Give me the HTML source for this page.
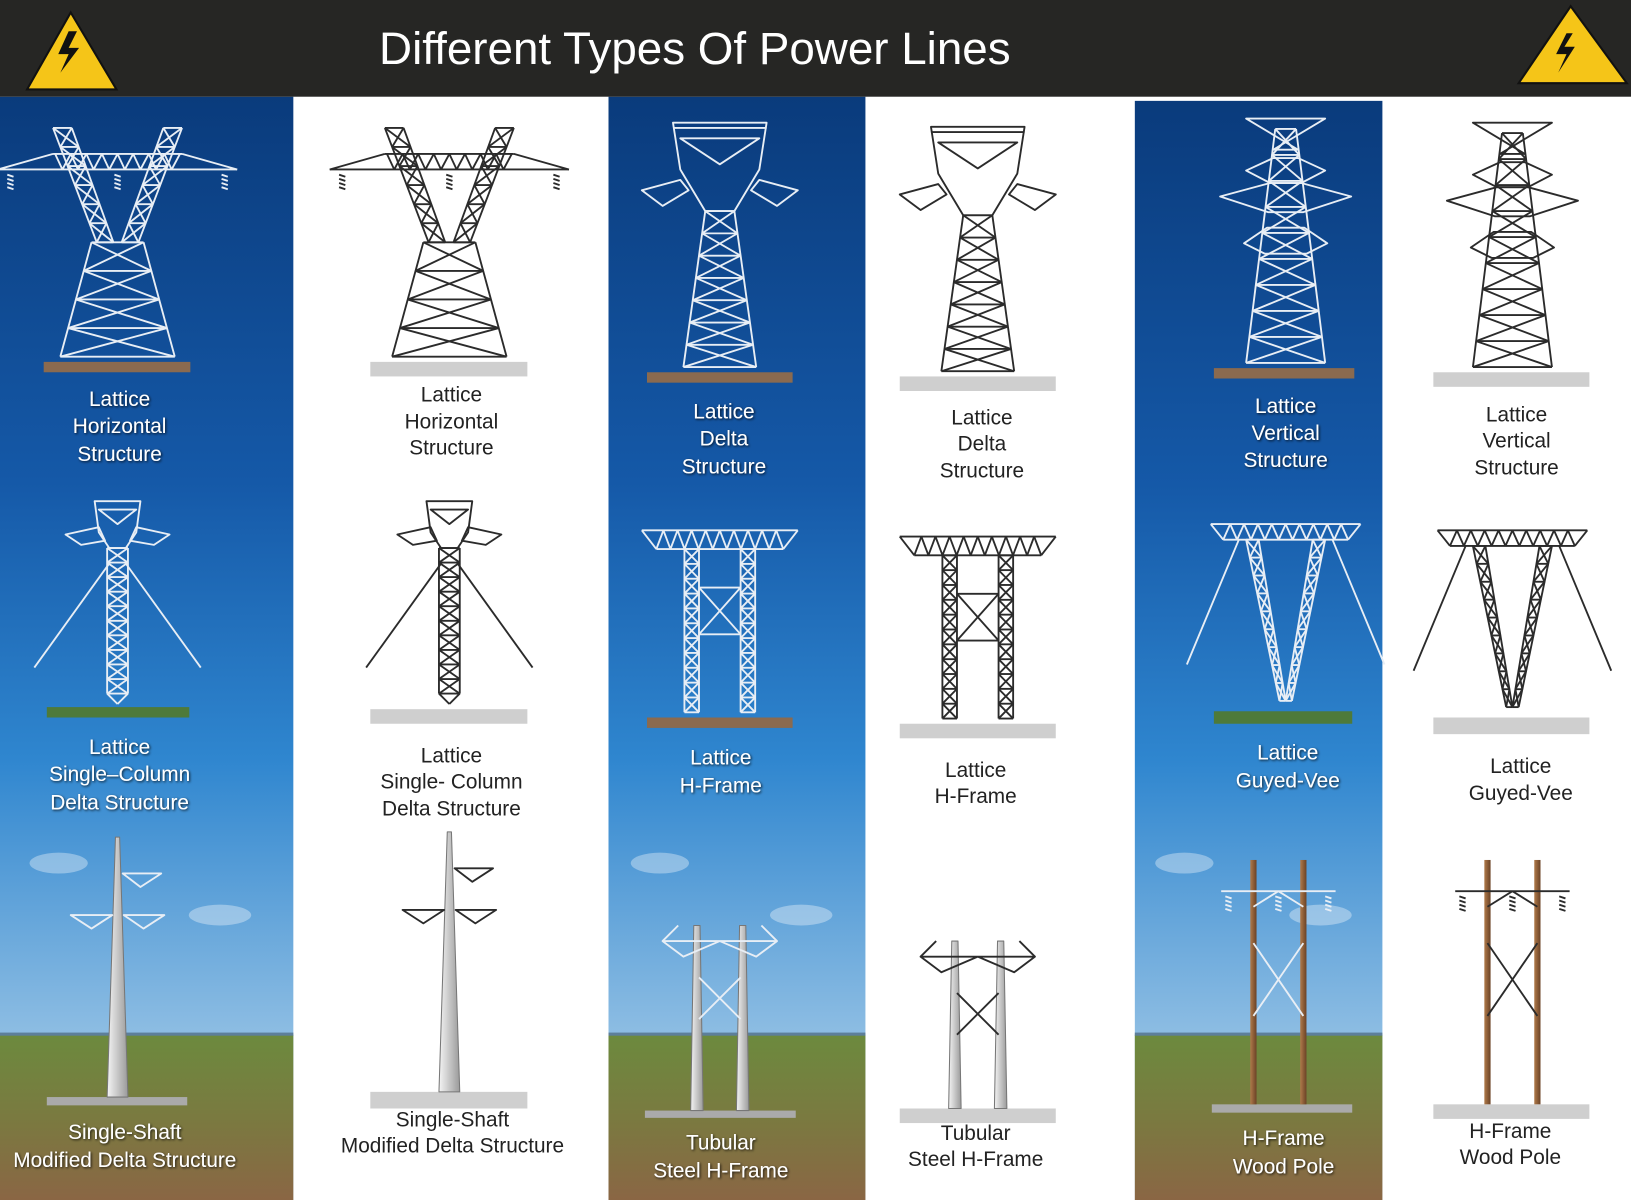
<!DOCTYPE html>
<html><head><meta charset="utf-8"><style>
html,body{margin:0;padding:0;background:#fff;width:1631px;height:1200px;overflow:hidden}
svg{display:block}
text{font-family:"Liberation Sans","DejaVu Sans",sans-serif;text-anchor:middle;dominant-baseline:middle}
</style></head><body>
<svg id="s" width="1631" height="1200" viewBox="0 0 1568 1154" preserveAspectRatio="none" xmlns="http://www.w3.org/2000/svg">
<defs>
<linearGradient id="sky" x1="0" y1="0" x2="0" y2="1">
<stop offset="0" stop-color="#0a3b7c"/><stop offset="0.35" stop-color="#1559a8"/><stop offset="0.6" stop-color="#2f86cf"/><stop offset="0.85" stop-color="#8dbde3"/><stop offset="1" stop-color="#b9d4e8"/>
</linearGradient>
<linearGradient id="gr" x1="0" y1="0" x2="0" y2="1">
<stop offset="0" stop-color="#6c8a3e"/><stop offset="0.5" stop-color="#7a7a40"/><stop offset="1" stop-color="#8a6644"/>
</linearGradient>
<linearGradient id="pole" x1="0" y1="0" x2="1" y2="0">
<stop offset="0" stop-color="#f4f4f4"/><stop offset="1" stop-color="#9a9a9a"/>
</linearGradient>
<linearGradient id="wood" x1="0" y1="0" x2="1" y2="0">
<stop offset="0" stop-color="#b07a4a"/><stop offset="1" stop-color="#6a4226"/>
</linearGradient>
<filter id="sh" x="-10%" y="-30%" width="120%" height="160%"><feDropShadow dx="1" dy="1" stdDeviation="1.2" flood-color="#000" flood-opacity="0.8"/></filter>
</defs>
<rect x="0" y="0" width="1568" height="1154" fill="#fff"/>
<g id="bg"></g>
<g id="g" fill="none" stroke-linejoin="round"></g>
<g id="t"></g>
</svg>
<script>
const NS="http://www.w3.org/2000/svg";
const bg=document.getElementById('bg'),G=document.getElementById('g'),T=document.getElementById('t');
function el(p,tag,a){const e=document.createElementNS(NS,tag);for(const k in a)e.setAttribute(k,a[k]);p.appendChild(e);return e;}
[[0,282,93],[585,247,93],[1091,238,97]].forEach(([x,w,y])=>{
 el(bg,'rect',{x:x,y:y,width:w,height:1154-y,fill:'url(#sky)'});
 el(bg,'rect',{x:x,y:995,width:w,height:159,fill:'url(#gr)'});
 el(bg,'rect',{x:x,y:993,width:w,height:3,fill:'#5d7f9a'});
 el(bg,'ellipse',{cx:x+w*0.2,cy:830,rx:28,ry:10,fill:'#fff',opacity:0.35});
 el(bg,'ellipse',{cx:x+w*0.75,cy:880,rx:30,ry:10,fill:'#fff',opacity:0.35});
});
el(bg,'rect',{x:0,y:0,width:1568,height:93,fill:'#262624'});
el(bg,'polygon',{points:'68,12 112,86 26,86',fill:'#f5c518',stroke:'#111','stroke-width':2});
el(bg,'polygon',{points:'1510,6 1564,80 1460,80',fill:'#f5c518',stroke:'#111','stroke-width':2});
el(bg,'polygon',{points:'1506,32 1496,52 1506,52 1498,70 1514,45 1504,45 1512,32',fill:'#111'});
el(bg,'polygon',{points:'66,30 56,52 66,52 58,70 76,46 66,46 74,30',fill:'#111'});
el(T,'text',{x:668,y:50,fill:'#fff','font-size':44}).textContent='Different Types Of Power Lines';
let C='#eee',W=1.8;
function L(x1,y1,x2,y2){el(G,'line',{x1,y1,x2,y2,stroke:C,'stroke-width':W});}
function P(pts){el(G,'polygon',{points:pts.map(p=>p.join(',')).join(' '),stroke:C,'stroke-width':W,fill:'none'});}
function truss(xl1,xr1,y1,xl2,xr2,y2,n){
 L(xl1,y1,xl2,y2);L(xr1,y1,xr2,y2);
 let prev=null;
 for(let i=0;i<=n;i++){const t=i/n,y=y1+(y2-y1)*t,xl=xl1+(xl2-xl1)*t,xr=xr1+(xr2-xr1)*t;
  L(xl,y,xr,y);
  if(prev){L(prev[0],prev[2],xr,y);L(prev[1],prev[2],xl,y);}
  prev=[xl,xr,y];}
}
function beam(x1,x2,y,h,dx){ // horizontal beam with zigzag
 L(x1,y,x2,y);L(x1+dx,y+h,x2-dx,y+h);L(x1,y,x1+dx,y+h);L(x2,y,x2-dx,y+h);
 const n=Math.round((x2-x1-2*dx)/14);const s=(x2-x1-2*dx)/n;
 for(let i=0;i<n;i++){const a=x1+dx+i*s;L(a,y+h,a+s/2,y);L(a+s/2,y,a+s,y+h);}
}
function base(x1,x2,y,h,fill){el(bg,'rect',{x:x1,y:y,width:x2-x1,height:h,fill:fill});}
function ins(x,y){for(let i=0;i<4;i++)L(x-3,y+i*4,x+3,y+i*4+2);}
function horiz(cx,by){const top=by-225;
 truss(cx-62,cx-44,top,cx-20,cx-4,by-115,6);truss(cx+44,cx+62,top,cx+4,cx+20,by-115,6);
 truss(cx-25,cx+25,by-115,cx-55,cx+55,by-5,4);
 L(cx-115,top+40,cx+115,top+40);L(cx-115,top+40,cx-62,top+25);L(cx+115,top+40,cx+62,top+25);L(cx-62,top+25,cx+62,top+25);
 for(let x=cx-60;x<cx+60;x+=15){L(x,top+25,x+7,top+40);L(x+7,top+40,x+15,top+25);}
 ins(cx-103,top+45);ins(cx,top+45);ins(cx+103,top+45);}
function delta(cx,by){const top=by-240;
 P([[cx-45,top],[cx+45,top],[cx+38,top+45],[cx+14,top+85],[cx-14,top+85],[cx-38,top+45]]);
 P([[cx-38,top+15],[cx+38,top+15],[cx,top+40]]);
 L(cx-45,top+5,cx+45,top+5);
 P([[cx-38,top+55],[cx-75,top+65],[cx-55,top+80],[cx-30,top+65]]);
 P([[cx+38,top+55],[cx+75,top+65],[cx+55,top+80],[cx+30,top+65]]);
 truss(cx-14,cx+14,top+85,cx-35,cx+35,by-5,7);}
function vert(cx,by){const top=by-240;
 truss(cx-10,cx+10,top+10,cx-38,cx+38,by-5,9);
 P([[cx-38,top],[cx+38,top],[cx-12,top+30],[cx+12,top+30]]);
 P([[cx-38,top+50],[cx-12,top+38],[cx+12,top+38],[cx+38,top+50],[cx+15,top+62],[cx-15,top+62]]);
 P([[cx-63,top+75],[cx-15,top+62],[cx+15,top+62],[cx+63,top+75],[cx+17,top+90],[cx-17,top+90]]);
 P([[cx-40,top+120],[cx-18,top+105],[cx+18,top+105],[cx+40,top+120],[cx+20,top+130],[cx-20,top+130]]);}
function scol(cx,by){const top=by-200;
 P([[cx-22,top],[cx+22,top],[cx+18,top+30],[cx+8,top+45],[cx-8,top+45],[cx-18,top+30]]);
 P([[cx-18,top+8],[cx+18,top+8],[cx,top+22]]);
 P([[cx-18,top+25],[cx-50,top+32],[cx-35,top+42],[cx-12,top+38]]);
 P([[cx+18,top+25],[cx+50,top+32],[cx+35,top+42],[cx+12,top+38]]);
 truss(cx-10,cx+10,top+45,cx-10,cx+10,by-15,10);
 L(cx-10,by-15,cx,by-5);L(cx+10,by-15,cx,by-5);
 L(cx-8,top+60,cx-80,by-40);L(cx+8,top+60,cx+80,by-40);}
function hframe(cx,by){const top=by-180;
 beam(cx-75,cx+75,top,18,14);
 truss(cx-34,cx-20,top+18,cx-34,cx-20,by-5,11);truss(cx+20,cx+34,top+18,cx+20,cx+34,by-5,11);
 L(cx-20,top+55,cx+20,top+55);L(cx-20,top+100,cx+20,top+100);L(cx-20,top+55,cx+20,top+100);L(cx+20,top+55,cx-20,top+100);}
function vee(cx,by){const top=by-180;
 beam(cx-72,cx+72,top,15,12);
 truss(cx-38,cx-26,top+15,cx-6,cx+0,by-10,9);truss(cx+26,cx+38,top+15,cx+0,cx+6,by-10,9);
 L(cx-45,top+15,cx-95,by-45);L(cx+45,top+15,cx+95,by-45);}
function shaft(cx,by){const top=by-250;
 el(G,'polygon',{points:`${cx-2},${top} ${cx+2},${top} ${cx+10},${by} ${cx-10},${by}`,fill:'url(#pole)',stroke:'#777','stroke-width':1});
 P([[cx+5,top+35],[cx+42,top+35],[cx+22,top+48]]);
 P([[cx-5,top+75],[cx-45,top+75],[cx-25,top+88]]);P([[cx+6,top+75],[cx+45,top+75],[cx+25,top+88]]);}
function tube(cx,by,top){
 for(const d of[-22,22])el(G,'polygon',{points:`${cx+d-3},${top} ${cx+d+3},${top} ${cx+d+6},${by} ${cx+d-6},${by}`,fill:'url(#pole)',stroke:'#777','stroke-width':1});
 P([[cx-55,top+15],[cx+55,top+15],[cx+35,top+30],[cx,top+15],[cx-35,top+30]]);
 L(cx-40,top,cx-55,top+15);L(cx+40,top,cx+55,top+15);
 L(cx-20,top+50,cx+20,top+90);L(cx+20,top+50,cx-20,top+90);}
function wood(cx,by){const top=by-235;
 for(const d of[-24,24])el(G,'rect',{x:cx+d-3,y:top,width:6,height:235,fill:'url(#wood)',stroke:'none'});
 L(cx-55,top+30,cx+55,top+30);
 L(cx-24,top+45,cx,top+30);L(cx+24,top+45,cx,top+30);
 L(cx-24,top+80,cx+24,top+150);L(cx+24,top+80,cx-24,top+150);
 ins(cx-48,top+35);ins(cx,top+35);ins(cx+48,top+35);}
const brown='#8a6a4f',grn='#4e7a3a',gray='#cfcfcf';
C='#e8eef5';
horiz(113,348);base(42,183,348,10,brown);
scol(113,682);base(45,182,680,10,grn);
shaft(113,1055);base(45,180,1055,8,'#aaa');
delta(692,358);base(622,762,358,10,brown);
hframe(692,690);base(622,762,690,10,brown);
tube(692,1068,890);base(620,765,1068,7,'#aaa');
vert(1236,354);base(1167,1302,354,10,brown);
vee(1236,684);base(1167,1300,684,12,grn);
wood(1229,1062);base(1165,1300,1062,8,'#aaa');
C='#2b2b2b';
horiz(432,348);base(356,507,348,14,gray);
scol(432,682);base(356,507,682,14,gray);
shaft(432,1050);base(356,507,1050,16,gray);
delta(940,362);base(865,1015,362,14,gray);
hframe(940,696);base(865,1015,696,14,gray);
tube(940,1066,905);base(865,1015,1066,14,gray);
vert(1454,358);base(1378,1528,358,14,gray);
vee(1454,690);base(1378,1528,690,16,gray);
wood(1454,1062);base(1378,1528,1062,14,gray);
function lab(x,ys,lines,white){lines.forEach((s,i)=>{const a={x:x,y:ys[i],fill:white?'#fff':'#222','font-size':20};if(white)a.filter='url(#sh)';el(T,'text',a).textContent=s;});}
lab(115,[385,411,438],['Lattice','Horizontal','Structure'],1);
lab(434,[381,407,432],['Lattice','Horizontal','Structure'],0);
lab(696,[397,423,450],['Lattice','Delta','Structure'],1);
lab(944,[403,428,454],['Lattice','Delta','Structure'],0);
lab(1236,[392,418,444],['Lattice','Vertical','Structure'],1);
lab(1458,[400,425,451],['Lattice','Vertical','Structure'],0);
lab(115,[720,746,773],['Lattice','Single–Column','Delta Structure'],1);
lab(434,[728,753,779],['Lattice','Single- Column','Delta Structure'],0);
lab(693,[730,757],['Lattice','H-Frame'],1);
lab(938,[742,767],['Lattice','H-Frame'],0);
lab(1238,[725,752],['Lattice','Guyed-Vee'],1);
lab(1462,[738,764],['Lattice','Guyed-Vee'],0);
lab(120,[1090,1117],['Single-Shaft','Modified Delta Structure'],1);
lab(435,[1078,1103],['Single-Shaft','Modified Delta Structure'],0);
lab(693,[1100,1127],['Tubular','Steel H-Frame'],1);
lab(938,[1091,1116],['Tubular','Steel H-Frame'],0);
lab(1234,[1096,1123],['H-Frame','Wood Pole'],1);
lab(1452,[1089,1114],['H-Frame','Wood Pole'],0);
</script>
</body></html>
